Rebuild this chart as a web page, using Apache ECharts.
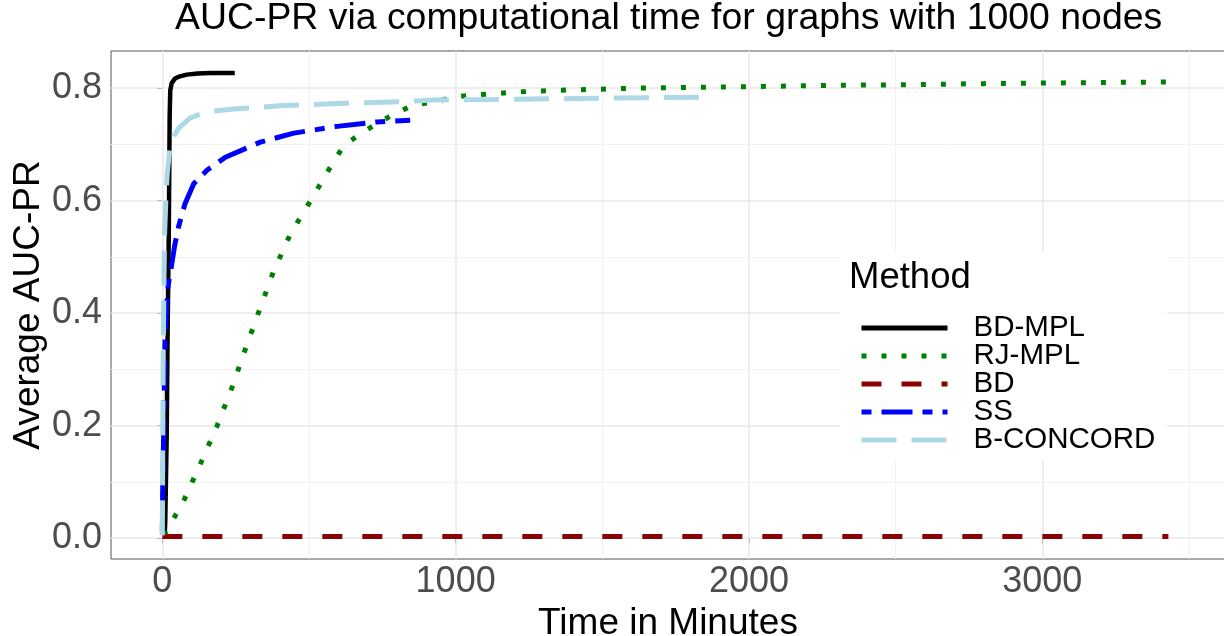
<!DOCTYPE html>
<html>
<head>
<meta charset="utf-8">
<script src="https://cdn.jsdelivr.net/npm/echarts@6/dist/echarts.min.js"></script>
<style>
  html, body { margin: 0; padding: 0; background: #fff; }
  #chart { width: 1224px; height: 636px; }
</style>
</head>
<body>
<div id="chart"></div>
<script>
// tick values
var xMajor = [0, 1000, 2000, 3000];
var xMinor = [500, 1500, 2500, 3500];
var yMajor = [0, 0.2, 0.4, 0.6, 0.8];
var yMinor = [0.1, 0.3, 0.5, 0.7];

var methods = ['BD-MPL', 'RJ-MPL', 'BD', 'SS', 'B-CONCORD'];

// BD-MPL
var bdmplTime = [8, 10, 15, 18, 22, 24, 25, 27, 32, 43, 60, 83, 120, 163, 247];
var bdmplAuc = [0.005, 0.03, 0.186, 0.364, 0.542, 0.68, 0.75, 0.796, 0.809, 0.817, 0.821, 0.824, 0.826, 0.827, 0.827];
// RJ-MPL
var rjmplTime = [5, 42, 75, 133, 187, 239, 285, 332, 380, 437, 474, 509, 545, 580, 618, 672, 732, 794, 857, 925, 993, 1064, 1133, 1204, 1341, 1482, 1620, 1760, 1900, 2039, 2300, 2516, 2800, 3000, 3200, 3440];
var rjmplAuc = [0.005, 0.038, 0.069, 0.136, 0.2, 0.27, 0.339, 0.407, 0.475, 0.541, 0.573, 0.603, 0.635, 0.666, 0.697, 0.718, 0.737, 0.755, 0.770, 0.775, 0.784, 0.788, 0.790, 0.793, 0.796, 0.798, 0.800, 0.801, 0.802, 0.803, 0.805, 0.806, 0.808, 0.809, 0.810, 0.811];
// BD
var bdTime = [0, 3430];
var bdAuc = [0.003, 0.003];
// SS
var ssTime = [0, 1, 4, 9, 14, 20, 30, 42, 56, 77, 107, 152, 215, 334, 448, 596, 732, 845];
var ssAuc = [0.01, 0.08, 0.17, 0.35, 0.41, 0.45, 0.48, 0.52, 0.555, 0.594, 0.63, 0.654, 0.677, 0.704, 0.72, 0.732, 0.74, 0.743];
// B-CONCORD
var bcTime = [0, 2.5, 7, 12, 17, 26, 40, 56, 95, 152, 243, 414, 618, 812, 925, 1141, 1493, 1838];
var bcAuc = [0.005, 0.3, 0.53, 0.6, 0.65, 0.695, 0.715, 0.729, 0.747, 0.758, 0.763, 0.769, 0.773, 0.776, 0.779, 0.780, 0.782, 0.784];

var FONT = "'Liberation Sans', Arial, sans-serif";

function pairs(xs, ys) {
	return xs.map(function (x, i) { return [x, ys[i]]; });
}

function lineSeries(name, xs, ys, color, width, dash) {
	return {
		name: name,
		type: 'line',
		data: pairs(xs, ys),
		symbol: 'none',
		smooth: false,
		z: 2,
		lineStyle: { color: color, width: width, type: dash, cap: 'butt' },
		itemStyle: { color: color }
	};
}

// grid lines drawn as markLines so they sit on the real tick values
var gridLines = [];
xMinor.forEach(function (v) { gridLines.push({ xAxis: v, lineStyle: { color: '#f2f2f2', width: 1, type: 'solid' } }); });
yMinor.forEach(function (v) { gridLines.push({ yAxis: v, lineStyle: { color: '#f2f2f2', width: 1, type: 'solid' } }); });
xMajor.forEach(function (v) { gridLines.push({ xAxis: v, lineStyle: { color: '#e8e8e8', width: 1.5, type: 'solid' } }); });
yMajor.forEach(function (v) { gridLines.push({ yAxis: v, lineStyle: { color: '#e8e8e8', width: 1.5, type: 'solid' } }); });

var chart = echarts.init(document.getElementById('chart'), null, { renderer: 'canvas' });

var option = {
	animation: false,
	backgroundColor: '#fff',
	textStyle: { fontFamily: FONT },
	title: {
		text: 'AUC-PR via computational time for graphs with 1000 nodes',
		left: 175,
		top: 0,
		padding: 0,
		textStyle: { fontSize: 37.4, fontWeight: 'normal', color: '#000', fontFamily: FONT }
	},
	grid: {
		left: 111, right: -1, top: 51, bottom: 77,
		outerBoundsMode: 'none',
		containLabel: false,
		show: true, borderColor: '#555', borderWidth: 1, backgroundColor: '#fff'
	},
	xAxis: {
		type: 'value',
		min: -175,
		max: 3623,
		axisLine: { show: false },
		splitLine: { show: false },
		axisTick: { show: true, customValues: xMajor, length: 5, lineStyle: { color: '#333' } },
		axisLabel: {
			customValues: xMajor, fontSize: 36, color: '#4d4d4d', margin: 5, fontFamily: FONT,
			formatter: function (v) { return String(v); }
		},
		name: 'Time in Minutes',
		nameLocation: 'middle',
		nameGap: 43,
		nameTextStyle: { fontSize: 37, color: '#000', fontFamily: FONT }
	},
	yAxis: {
		type: 'value',
		min: -0.037,
		max: 0.866,
		axisLine: { show: false },
		splitLine: { show: false },
		axisTick: { show: true, customValues: yMajor, length: 5, lineStyle: { color: '#333' } },
		axisLabel: {
			customValues: yMajor, fontSize: 36, color: '#4d4d4d', margin: 9, fontFamily: FONT,
			formatter: function (v) { return v.toFixed(1); }
		},
		name: 'Average AUC-PR',
		nameLocation: 'middle',
		nameGap: 64,
		nameMoveOverlap: false,
		nameTextStyle: { fontSize: 37, color: '#000', fontFamily: FONT }
	},
	legend: {
		data: methods,
		orient: 'vertical',
		left: 859,
		top: 313,
		padding: 0,
		itemWidth: 86,
		itemHeight: 20,
		itemGap: -2,
		selectedMode: false,
		z: 4,
		itemStyle: { opacity: 0, borderWidth: 0 },
		lineStyle: { width: 5, opacity: 1 },
		textStyle: { fontSize: 29.5, color: '#000', lineHeight: 20, padding: [0, 0, 0, 21], fontFamily: FONT }
	},
	graphic: [
		{ type: 'rect', z: 3, silent: true, shape: { x: 840, y: 252, width: 327, height: 208 }, style: { fill: '#fff' } },
		{ type: 'text', z: 4, silent: true, x: 849, y: 278, style: { text: 'Method', font: '36.5px ' + FONT, fill: '#000', textVerticalAlign: 'middle', verticalAlign: 'middle' } }
	],
	series: [
		{
			name: 'grid',
			type: 'line',
			data: [],
			silent: true,
			markLine: {
				z: 1,
				silent: true,
				symbol: ['none', 'none'],
				label: { show: false },
				animation: false,
				data: gridLines
			}
		},
		lineSeries('BD-MPL', bdmplTime, bdmplAuc, '#000000', 4.5, 'solid'),
		lineSeries('RJ-MPL', rjmplTime, rjmplAuc, '#008000', 5, [5, 15]),
		lineSeries('BD', bdTime, bdAuc, '#8b0000', 5, [20, 20]),
		lineSeries('SS', ssTime, ssAuc, '#0000ff', 5, [10, 10, 31, 10]),
		lineSeries('B-CONCORD', bcTime, bcAuc, '#add8e6', 5, [35, 15])
	]
};

chart.setOption(option);
</script>
</body>
</html>
